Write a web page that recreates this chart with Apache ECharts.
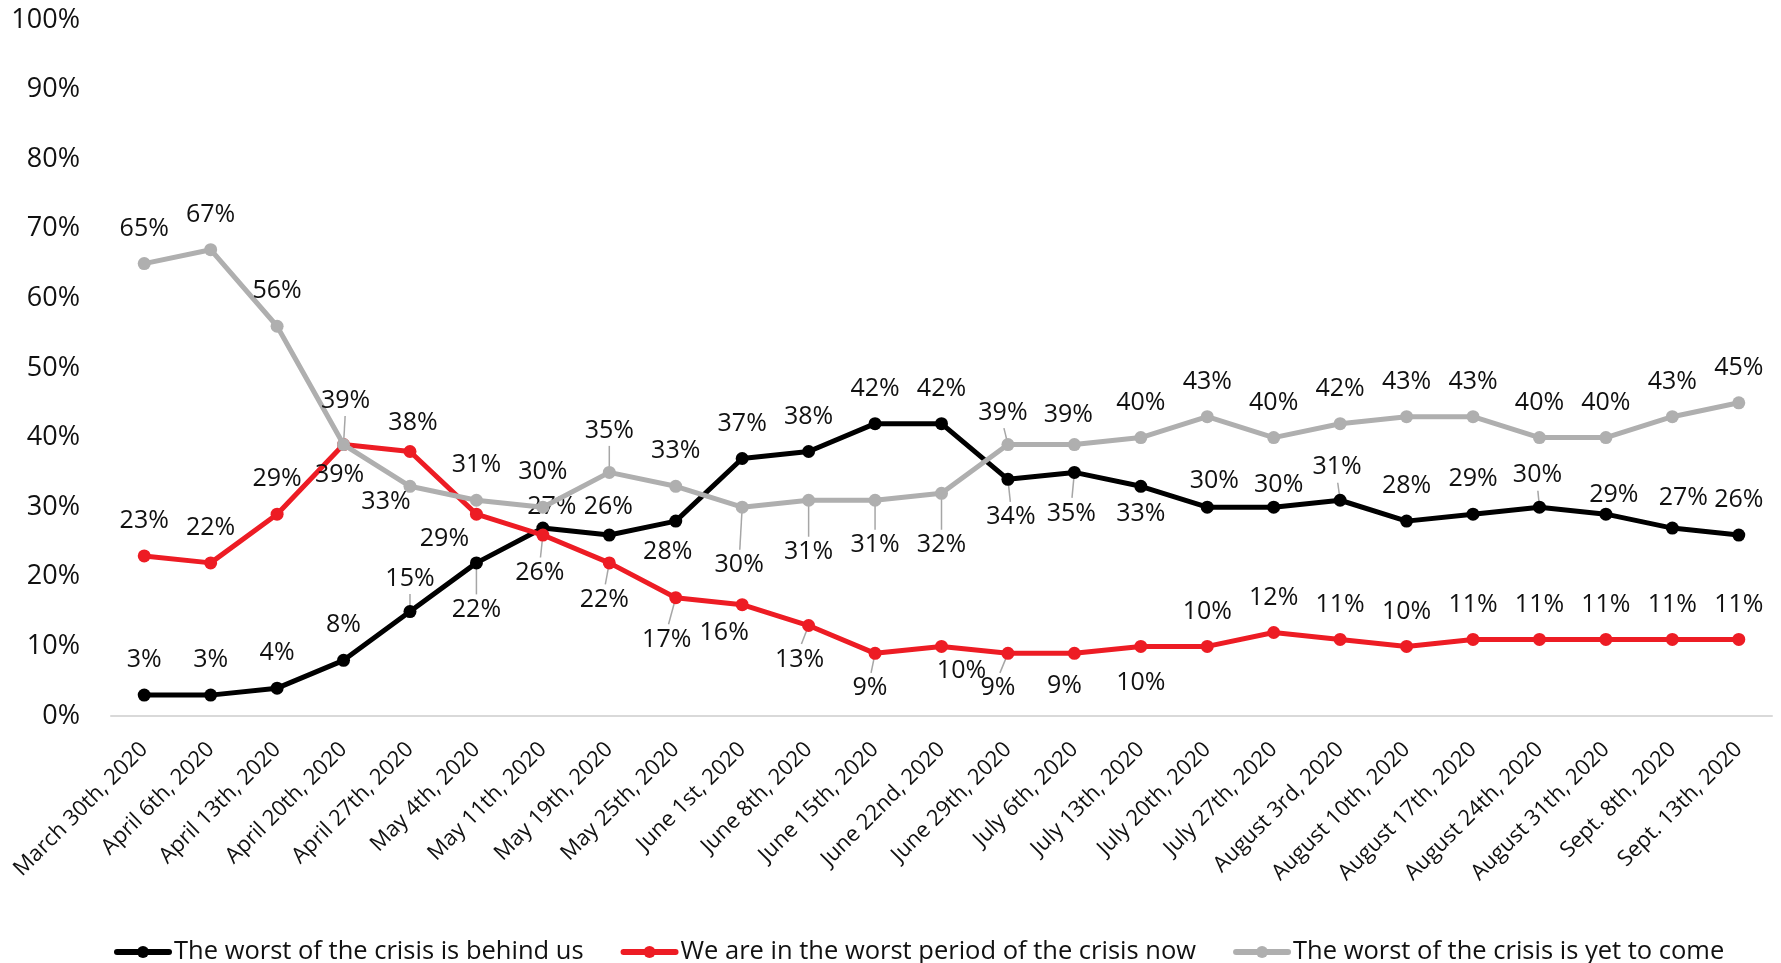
<!DOCTYPE html>
<html>
<head>
<meta charset="utf-8">
<script src="https://cdn.jsdelivr.net/npm/echarts@6/dist/echarts.min.js"></script>
<style>
  html, body { margin: 0; padding: 0; background: #ffffff; }
  #chart { width: 1781px; height: 963px; }
</style>
</head>
<body>
<div id="chart"></div>
<script>
// Survey waves (x axis)
const weeks = [
  'March 30th, 2020', 'April 6th, 2020', 'April 13th, 2020', 'April 20th, 2020',
  'April 27th, 2020', 'May 4th, 2020', 'May 11th, 2020', 'May 19th, 2020',
  'May 25th, 2020', 'June 1st, 2020', 'June 8th, 2020', 'June 15th, 2020',
  'June 22nd, 2020', 'June 29th, 2020', 'July 6th, 2020', 'July 13th, 2020',
  'July 20th, 2020', 'July 27th, 2020', 'August 3rd, 2020', 'August 10th, 2020',
  'August 17th, 2020', 'August 24th, 2020', 'August 31th, 2020', 'Sept. 8th, 2020',
  'Sept. 13th, 2020'
];

// Share of respondents (%)
const behindUs  = [3, 3, 4, 8, 15, 22, 27, 26, 28, 37, 38, 42, 42, 34, 35, 33, 30, 30, 31, 28, 29, 30, 29, 27, 26];
const worstNow  = [23, 22, 29, 39, 38, 29, 26, 22, 17, 16, 13, 9, 10, 9, 9, 10, 10, 12, 11, 10, 11, 11, 11, 11, 11];
const yetToCome = [65, 67, 56, 39, 33, 31, 30, 35, 33, 30, 31, 31, 32, 39, 39, 40, 43, 40, 42, 43, 43, 40, 40, 43, 45];

const seriesNames = [
  'The worst of the crisis is behind us',
  'We are in the worst period of the crisis now',
  'The worst of the crisis is yet to come'
];
const seriesColors = ['#000000', '#ED1C24', '#AFAFAF'];

// Value-label placement per point: [side, dx, dy, leader line]
const behindUsLabels = [
  ['T', 0, 0, 0], ['T', 0, 0, 0], ['T', 0, 0, 0], ['T', 0, 0, 0], ['T', 0, 2, 1],
  ['B', 0, 12, 1], ['T', 9, 14, 0], ['T', -1, 7, 0], ['B', -8, -4, 0], ['T', 0, 0, 0],
  ['T', 0, 0, 0], ['T', 0, 0, 0], ['T', 0, 0, 0], ['B', 3, 3, 1], ['B', -3, 6, 1],
  ['B', 0, -7, 0], ['T', 7, 9, 0], ['T', 5, 13, 0], ['T', -3, 2, 1], ['T', 0, 0, 0],
  ['T', 0, 0, 0], ['T', -2, 3, 1], ['T', 8, 16, 0], ['T', 11, 5, 0], ['T', 0, 0, 0]
];
const worstNowLabels = [
  ['T', 0, 0, 0], ['T', 0, 0, 0], ['T', 0, 0, 0], ['B', -4, -5, 0], ['T', 3, 6, 0],
  ['B', -32, -10, 0], ['B', -3, 3, 1], ['B', -5, 2, 1], ['B', -9, 7, 1], ['B', -18, -7, 0],
  ['B', -9, -1, 1], ['B', -5, 0, 1], ['B', 20, -11, 0], ['B', -10, 0, 1], ['B', -10, -2, 0],
  ['B', 0, 1, 0], ['T', 0, 0, 0], ['T', 0, 0, 0], ['T', 0, 0, 0], ['T', 0, 0, 0],
  ['T', 0, 0, 0], ['T', 0, 0, 0], ['T', 0, 0, 0], ['T', 0, 0, 0], ['T', 0, 0, 0]
];
const yetToComeLabels = [
  ['T', 0, 0, 0], ['T', 0, 0, 0], ['T', 0, 0, 0], ['T', 2, -9, 1], ['B', -24, -19, 0],
  ['T', 0, 0, 0], ['T', 0, 0, 0], ['T', 0, -7, 1], ['T', 0, 0, 0], ['B', -3, 23, 1],
  ['B', 0, 17, 1], ['B', 0, 10, 1], ['B', 0, 17, 1], ['T', -5, 3, 1], ['T', -6, 5, 0],
  ['T', 0, 0, 0], ['T', 0, 0, 0], ['T', 0, 0, 0], ['T', 0, 0, 0], ['T', 0, 0, 0],
  ['T', 0, 0, 0], ['T', 0, 0, 0], ['T', 0, 0, 0], ['T', 0, 0, 0], ['T', 0, 0, 0]
];

const FONT = "'Open Sans', 'Noto Sans', sans-serif";
const TEXT_COLOR = '#111111';
const SYMBOL_SIZE = 13;
const LABEL_DISTANCE = 16;

function buildPoints(values, placement) {
  return values.map((v, i) => {
    const [side, dx, dy] = placement[i];
    return {
      value: v,
      label: { position: side === 'B' ? 'bottom' : 'top', offset: [dx, dy] }
    };
  });
}

function lineSeries(idx, values, placement, z) {
  return {
    name: seriesNames[idx],
    type: 'line',
    z: z,
    data: buildPoints(values, placement),
    symbol: 'circle',
    symbolSize: SYMBOL_SIZE,
    showAllSymbol: true,
    lineStyle: { width: 5, color: seriesColors[idx] },
    itemStyle: { color: seriesColors[idx] },
    label: {
      show: true,
      formatter: '{c}%',
      distance: LABEL_DISTANCE,
      fontFamily: FONT,
      fontSize: 25,
      color: TEXT_COLOR
    },
    emphasis: { disabled: true }
  };
}

// Thin grey leader lines joining a marker to its displaced value label
function leaderSeries(idx, values, placement) {
  const rows = [];
  values.forEach((v, i) => {
    const [side, dx, dy, leader] = placement[i];
    if (leader) rows.push([i, v, side === 'B' ? 1 : -1, dx, dy]);
  });
  return {
    id: 'leaders-' + idx,
    type: 'custom',
    silent: true,
    z: 1,
    data: rows,
    encode: { x: 0, y: 1 },
    renderItem: function (params, api) {
      const p = api.coord([api.value(0), api.value(1)]);
      const dir = api.value(2);
      const dx = api.value(3);
      const dy = api.value(4);
      const reach = SYMBOL_SIZE / 2 + LABEL_DISTANCE - 3;
      return {
        type: 'line',
        shape: { x1: p[0], y1: p[1], x2: p[0] + dx * 0.8, y2: p[1] + dir * reach + dy },
        style: { stroke: '#A6A6A6', lineWidth: 1.5 }
      };
    }
  };
}

const chart = echarts.init(document.getElementById('chart'), null, { renderer: 'canvas' });

chart.setOption({
  animation: false,
  backgroundColor: '#ffffff',
  grid: { left: 111, right: 9, top: 20, bottom: 247, containLabel: false },
  legend: {
    data: seriesNames,
    left: 109,
    top: 934,
    itemWidth: 52,
    itemHeight: 15,
    itemGap: 37,
    lineStyle: { width: 6, cap: 'round' },
    textStyle: { fontFamily: FONT, fontSize: 25.5, color: TEXT_COLOR }
  },
  xAxis: {
    type: 'category',
    data: weeks,
    boundaryGap: true,
    axisLine: { show: true, lineStyle: { color: '#D9D9D9', width: 2 } },
    axisTick: { show: false },
    axisLabel: {
      interval: 0,
      rotate: 45,
      margin: 30,
      fontFamily: FONT,
      fontSize: 22,
      color: TEXT_COLOR
    }
  },
  yAxis: {
    type: 'value',
    min: 0,
    max: 100,
    interval: 10,
    axisLine: { show: false },
    axisTick: { show: false },
    splitLine: { show: false },
    axisLabel: {
      formatter: '{value}%',
      margin: 31,
      fontFamily: FONT,
      fontSize: 27,
      color: TEXT_COLOR
    }
  },
  series: [
    leaderSeries(0, behindUs, behindUsLabels),
    leaderSeries(1, worstNow, worstNowLabels),
    leaderSeries(2, yetToCome, yetToComeLabels),
    lineSeries(0, behindUs, behindUsLabels, 2),
    lineSeries(1, worstNow, worstNowLabels, 3),
    lineSeries(2, yetToCome, yetToComeLabels, 4)
  ]
});
</script>
</body>
</html>
